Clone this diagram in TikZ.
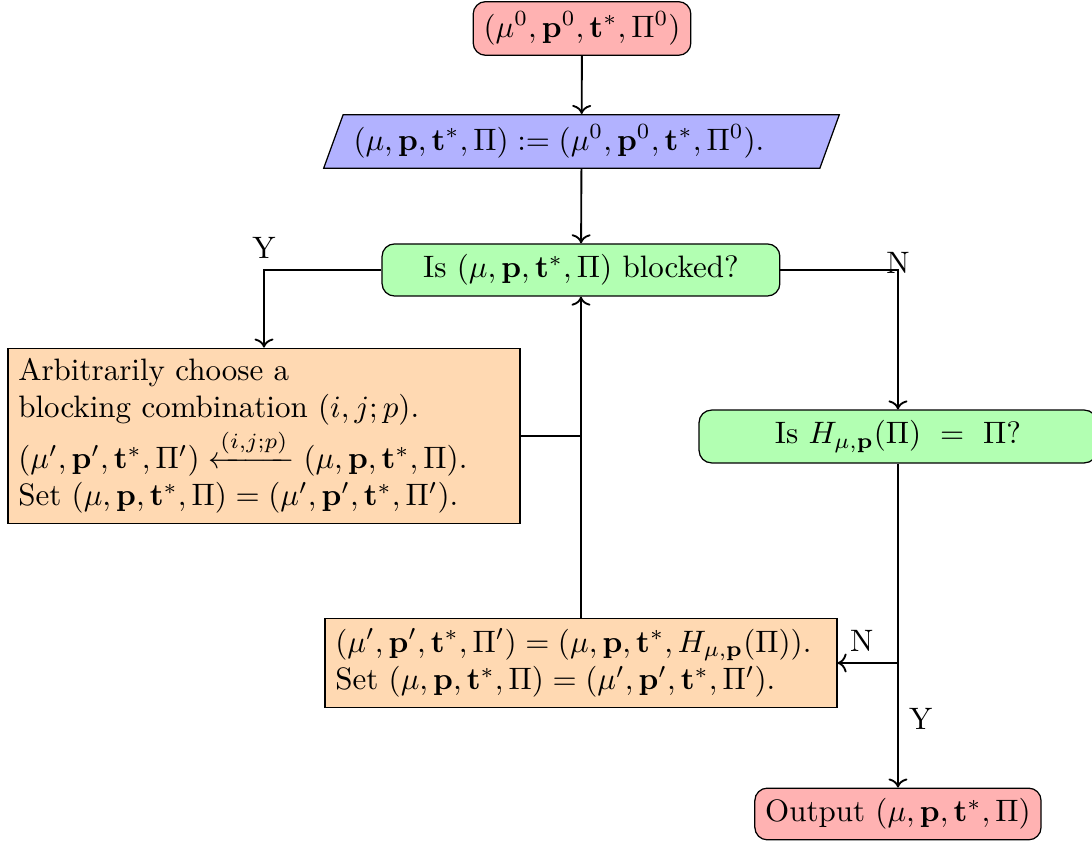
\documentclass[tikz,border=0pt]{standalone}
\usepackage{amsmath}
\usetikzlibrary{arrows.meta,positioning,shapes.geometric}

\begin{document}
\begin{tikzpicture}[
  startstop/.style={rectangle,rounded corners,draw=black,fill=red!30},
  io/.style={trapezium,trapezium left angle=70,trapezium right angle=110,draw=black,fill=blue!30,text width=5.17cm,align=left},
  decision/.style={rectangle,rounded corners,draw=black,fill=green!30,minimum width=4.51cm,minimum height=0.59cm},
  process/.style={rectangle,draw=black,fill=orange!30,text width=5.57cm,align=left},
  flow/.style={->,semithick}]
\useasboundingbox (0,0) rectangle (12.381,-9.535);
\node[startstop] (start) at (6.599,-0.323) {$(\mu^0,\mathbf{p}^0,\mathbf{t}^*,\Pi^0)$};
\node[io] (init) at (6.593,-1.604) {$(\mu,\mathbf{p},\mathbf{t}^*,\Pi):=(\mu^0,\mathbf{p}^0,\mathbf{t}^*,\Pi^0)$.};
\node[decision] (blocked) at (6.587,-3.061) {Is $(\mu,\mathbf{p},\mathbf{t}^*,\Pi)$ blocked?};
\node[process] (choose) at (2.993,-4.943) {Arbitrarily choose a\\
blocking combination $(i,j;p)$.\\
$(\mu',\mathbf{p}',\mathbf{t}^*,\Pi')\xleftarrow{(i,j;p)}(\mu,\mathbf{p},\mathbf{t}^*,\Pi)$.\\
Set $(\mu,\mathbf{p},\mathbf{t}^*,\Pi)=(\mu',\mathbf{p}',\mathbf{t}^*,\Pi')$.};
\node[decision] (fixed) at (10.181,-4.949) {Is $H_{\mu,\mathbf{p}}(\Pi)\ =\ \Pi$?};
\node[process] (update) at (6.587,-7.517) {$(\mu',\mathbf{p}',\mathbf{t}^*,\Pi')=(\mu,\mathbf{p},\mathbf{t}^*,H_{\mu,\mathbf{p}}(\Pi))$.\\
Set $(\mu,\mathbf{p},\mathbf{t}^*,\Pi)=(\mu',\mathbf{p}',\mathbf{t}^*,\Pi')$.};
\node[startstop] (out) at (10.181,-9.229) {Output $(\mu,\mathbf{p},\mathbf{t}^*,\Pi)$};
\coordinate (yes1) at (blocked.west -| choose.north);
\coordinate (no1) at (blocked.east -| fixed.north);
\coordinate (back) at (choose.east -| blocked.south);
\coordinate (split) at (fixed.south |- update.east);
\draw[flow] (start) -- (init);
\draw[flow] (init) -- (blocked);
\draw[flow] (blocked.west) -- (yes1) node[above] {Y} -- (choose.north);
\draw[flow] (blocked.east) -- (no1) node[anchor=base,yshift=-1pt] {N} -- (fixed.north);
\draw[semithick] (choose.east) -- (back);
\draw[flow] (update.north) -- (blocked.south);
\draw[semithick] (fixed.south) -- (split);
\draw[flow] (split) -- node[right,pos=0.45] {Y} (out.north);
\draw[flow] (split) -- node[above,pos=0.6] {N} (update.east);
\end{tikzpicture}
\end{document}
